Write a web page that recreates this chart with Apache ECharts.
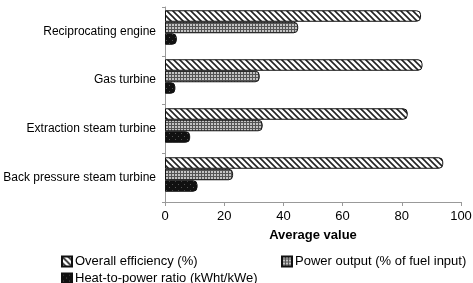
<!DOCTYPE html>
<html>
<head>
<meta charset="utf-8">
<script src="https://cdn.jsdelivr.net/npm/echarts@6/dist/echarts.min.js"></script>
<style>
  html, body { margin: 0; padding: 0; background: #fff; }
  #main { width: 473px; height: 283px; }
</style>
</head>
<body>
<div id="main"></div>
<script>
const categories = ['Reciprocating engine', 'Gas turbine', 'Extraction steam turbine', 'Back pressure steam turbine'];
const overallEfficiency = [86.5, 87, 82, 94];
const powerOutput = [45, 32, 33, 23];
const heatToPower = [4, 3.5, 8.5, 11];
const xTicks = [0, 20, 40, 60, 80, 100];

// pattern tiles to mimic the black & white print fills
function makePattern(kind) {
  const c = document.createElement('canvas');
  c.width = 6; c.height = 6;
  const g = c.getContext('2d');
  if (kind === 'stripe') {
    g.fillStyle = '#fff';
    g.fillRect(0, 0, 6, 6);
    g.strokeStyle = '#222';
    g.lineWidth = 1.6;
    g.beginPath();
    g.moveTo(0, 0); g.lineTo(6, 6);
    g.moveTo(-3, 3); g.lineTo(3, 9);
    g.moveTo(3, -3); g.lineTo(9, 3);
    g.stroke();
  } else if (kind === 'grid') {
    g.fillStyle = '#c4c4c4';
    g.fillRect(0, 0, 6, 6);
    g.fillStyle = '#555';
    g.fillRect(0, 0, 1, 6);
    g.fillRect(3, 0, 1, 6);
    g.fillRect(0, 2, 6, 1);
    g.fillRect(0, 5, 6, 1);
  } else {
    g.fillStyle = '#111';
    g.fillRect(0, 0, 6, 6);
    g.fillStyle = '#555';
    g.fillRect(1, 1, 1, 1);
    g.fillRect(4, 4, 1, 1);
  }
  return { image: c, repeat: 'repeat' };
}

const chart = echarts.init(document.getElementById('main'));
const barStyle = (kind) => ({
  color: makePattern(kind),
  borderColor: '#111',
  borderWidth: 1,
  borderRadius: [0, 4, 4, 0]
});
const legendText = { fontSize: 13, color: '#000', padding: [0, 0, 0, -2] };

chart.setOption({
  animation: false,
  textStyle: { fontFamily: 'Liberation Sans, Arial, sans-serif' },
  // grid 0 carries the visible axes, grid 1 the bars (drawn a little higher,
  // like the 3D depth offset of the original)
  grid: [
    { left: 165, right: 12, top: 7, bottom: 81, outerBoundsMode: 'none' },
    { left: 165, right: 12, top: 3, bottom: 84, outerBoundsMode: 'none' }
  ],
  xAxis: [
    {
      type: 'value', gridIndex: 0,
      min: 0, max: 100, interval: 20,
      name: 'Average value',
      nameLocation: 'middle',
      nameGap: 27,
      nameTextStyle: { fontWeight: 'bold', fontSize: 13, color: '#000' },
      axisLine: { show: true, lineStyle: { color: '#999' } },
      axisTick: { show: true, length: 4, lineStyle: { color: '#999' } },
      axisLabel: {
        fontSize: 13, color: '#000', margin: 8,
        formatter: (v) => xTicks.includes(v) ? String(v) : ''
      },
      splitLine: { show: false }
    },
    {
      type: 'value', gridIndex: 1, show: false,
      min: 0, max: 100, interval: 20, splitLine: { show: false }
    }
  ],
  yAxis: [
    {
      type: 'category', gridIndex: 0,
      data: categories,
      inverse: true,
      axisLine: { show: true, lineStyle: { color: '#999' } },
      axisTick: { show: true, length: 3, lineStyle: { color: '#999' } },
      axisLabel: { fontSize: 12, color: '#000', margin: 9, padding: [2, 0, 0, 0] }
    },
    {
      type: 'category', gridIndex: 1, show: false,
      data: categories, inverse: true
    }
  ],
  legend: [
    {
      left: 56, top: 250, itemWidth: 10, itemHeight: 10, icon: 'rect',
      textStyle: legendText, data: ['Overall efficiency (%)']
    },
    {
      left: 276, top: 250, itemWidth: 10, itemHeight: 10, icon: 'rect',
      textStyle: legendText, data: ['Power output (% of fuel input)']
    },
    {
      left: 56, top: 267, itemWidth: 10, itemHeight: 10, icon: 'rect',
      textStyle: legendText, data: ['Heat-to-power ratio (kWht/kWe)']
    }
  ],
  series: [
    {
      name: 'Overall efficiency (%)', type: 'bar', data: overallEfficiency,
      xAxisIndex: 1, yAxisIndex: 1,
      barWidth: 11.5, barGap: '0%', itemStyle: barStyle('stripe')
    },
    {
      name: 'Power output (% of fuel input)', type: 'bar', data: powerOutput,
      xAxisIndex: 1, yAxisIndex: 1,
      barWidth: 11.5, barGap: '0%', itemStyle: barStyle('grid')
    },
    {
      name: 'Heat-to-power ratio (kWht/kWe)', type: 'bar', data: heatToPower,
      xAxisIndex: 1, yAxisIndex: 1,
      barWidth: 11.5, barGap: '0%', itemStyle: barStyle('dots')
    }
  ]
});
</script>
</body>
</html>
